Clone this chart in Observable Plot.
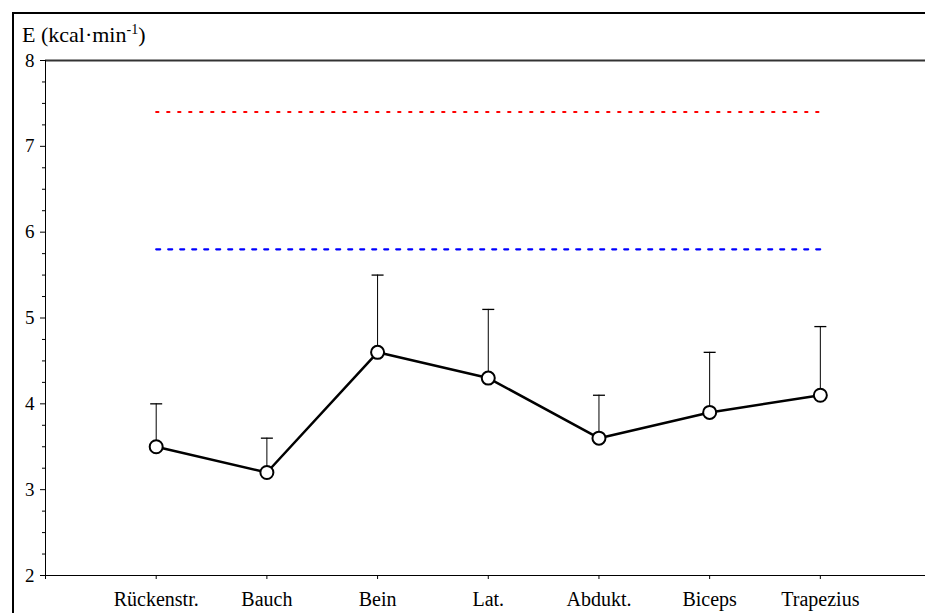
<!DOCTYPE html>
<html>
<head>
<meta charset="utf-8">
<script src="https://cdn.jsdelivr.net/npm/d3@7"></script>
<script src="https://cdn.jsdelivr.net/npm/@observablehq/plot@0.6"></script>
<style>
  html, body { margin: 0; padding: 0; background: #fff; overflow: hidden; }
  #wrap { position: relative; width: 925px; height: 613px; overflow: hidden; font-family: "Liberation Serif", "DejaVu Serif", serif; }
  #frameTop { position: absolute; left: 12px; top: 12px; width: 913px; height: 2px; background: #000; }
  #frameLeft { position: absolute; left: 12px; top: 12px; width: 2px; height: 601px; background: #000; }
  #title { position: absolute; left: 22px; top: 24px; font-size: 22px; line-height: 22px; color: #000; white-space: nowrap; }
  #title sup { font-size: 14px; line-height: 0; vertical-align: 0.55em; }
  #chart { position: absolute; left: 0; top: 0; width: 925px; height: 613px; overflow: hidden; }
</style>
</head>
<body>
<div id="wrap">
  <div id="chart"></div>
  <div id="frameTop"></div>
  <div id="frameLeft"></div>
  <div id="title">E (kcal·min<sup>-1</sup>)</div>
</div>
<script>
// Data
const categories = ["Rückenstr.", "Bauch", "Bein", "Lat.", "Abdukt.", "Biceps", "Trapezius"];
const means = [3.5, 3.2, 4.6, 4.3, 3.6, 3.9, 4.1];
const upper = [4.0, 3.6, 5.5, 5.1, 4.1, 4.6, 4.9];
const redLevel = 7.4;
const blueLevel = 5.8;
const yTicks = [2, 3, 4, 5, 6, 7, 8];
const yMinorTicks = d3.range(2, 8.001, 0.25).filter(v => Math.abs(v - Math.round(v)) > 1e-6);

const data = categories.map((c, i) => ({cat: c, pos: i + 1, mean: means[i], upper: upper[i]}));
const refs = categories.map((c, i) => ({pos: i + 1}));

const capSymbol = {
  draw(context, size) {
    const w = Math.sqrt(size / Math.PI);
    context.moveTo(-w, 0);
    context.lineTo(w, 0);
  }
};

const font = "Liberation Serif, DejaVu Serif, serif";

const chart = Plot.plot({
  width: 925,
  height: 613,
  marginLeft: 45,
  marginRight: 0,
  marginTop: 60,
  marginBottom: 38,
  style: {fontFamily: font, fontSize: "20px", color: "#000", background: "transparent", overflow: "hidden"},
  x: {type: "linear", domain: [0, 7.95]},
  y: {domain: [2, 8]},
  marks: [
    Plot.ruleY([8], {stroke: "#333", strokeWidth: 2}),
    Plot.ruleY([2], {stroke: "#000", strokeWidth: 1}),
    Plot.ruleX([0], {y1: 2, y2: 8, stroke: "#000", strokeWidth: 1}),
    Plot.axisY(yTicks, {tickSize: 5, tickPadding: 6, fontSize: 19, label: null, stroke: "#000", tickFormat: d3.format("d")}),
    Plot.axisY(yMinorTicks, {tickSize: 3, tickFormat: () => "", label: null, stroke: "#000"}),
    Plot.axisX(d3.range(0, categories.length + 1), {
      tickSize: 4, tickPadding: 12, fontSize: 20, label: null, stroke: "#000",
      tickFormat: i => i === 0 ? "" : categories[i - 1]
    }),
    Plot.lineY(refs, {x: "pos", y: redLevel, stroke: "#ff0000", strokeWidth: 2.2, strokeDasharray: "2.2,8.8"}),
    Plot.lineY(refs, {x: "pos", y: blueLevel, stroke: "#0000ff", strokeWidth: 2.2, strokeDasharray: "4,8"}),
    Plot.ruleX(data, {x: "pos", y1: "mean", y2: "upper", stroke: "#000", strokeWidth: 1}),
    Plot.dot(data, {x: "pos", y: "upper", symbol: capSymbol, r: 6, stroke: "#000", strokeWidth: 1.3, fill: "none"}),
    Plot.line(data, {x: "pos", y: "mean", stroke: "#000", strokeWidth: 2.5}),
    Plot.dot(data, {x: "pos", y: "mean", r: 6.5, fill: "#fff", stroke: "#000", strokeWidth: 2})
  ]
});
document.getElementById("chart").appendChild(chart);
</script>
</body>
</html>
